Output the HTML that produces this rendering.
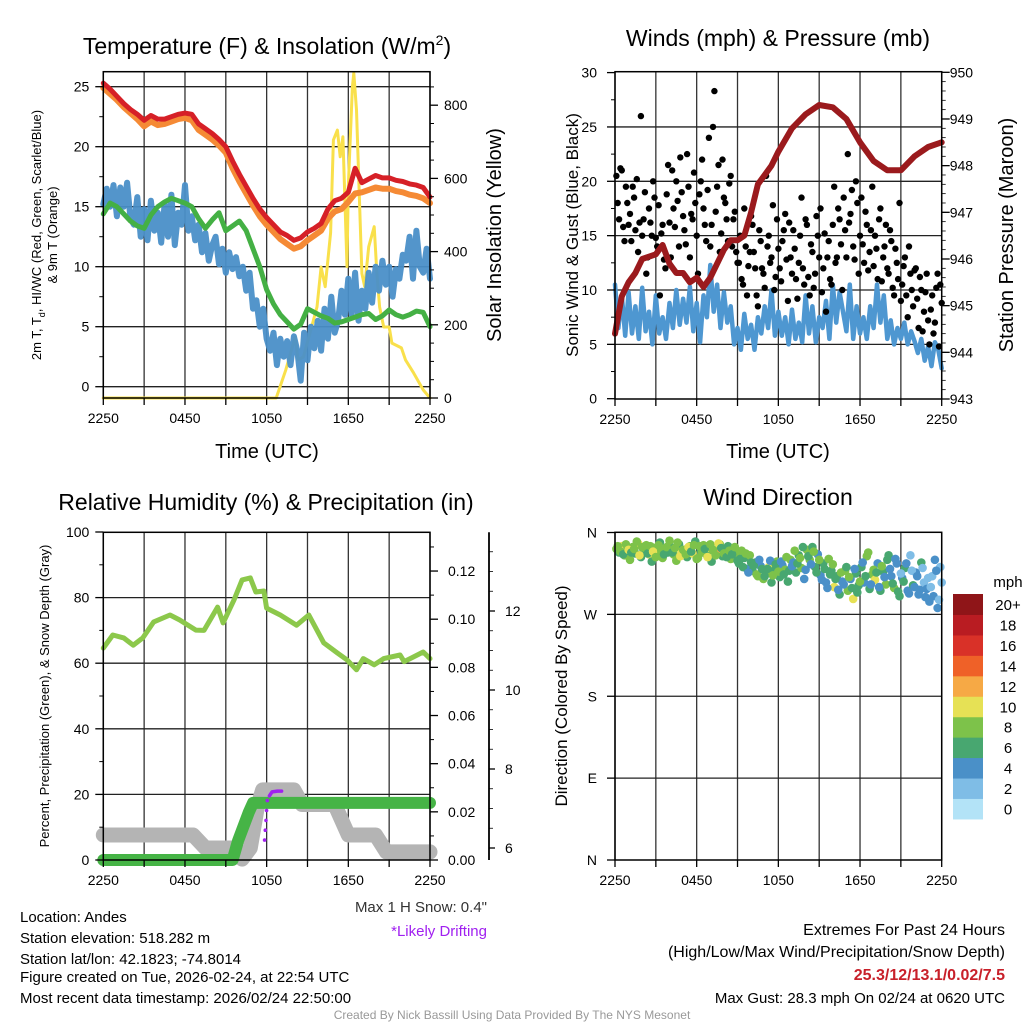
<!DOCTYPE html>
<html><head><meta charset="utf-8"><style>
html,body{margin:0;padding:0;background:#fff;}
svg{display:block;font-family:"Liberation Sans",Arial,sans-serif;}
</style></head><body>
<svg id="chart" xmlns="http://www.w3.org/2000/svg" width="1024" height="1024" viewBox="0 0 1024 1024">
<rect width="1024" height="1024" fill="#fff"/>
<g id="grids"></g>
<g id="series"></g>
<g id="axes"></g>
<g id="texts" fill="#000">
<text x="267" y="54" font-size="23" text-anchor="middle">Temperature (F) &amp; Insolation (W/m<tspan dy="-9" font-size="14">2</tspan><tspan dy="9">)</tspan></text>
<text x="778" y="46" font-size="23" text-anchor="middle">Winds (mph) &amp; Pressure (mb)</text>
<text x="266" y="510" font-size="23" text-anchor="middle">Relative Humidity (%) &amp; Precipitation (in)</text>
<text x="778" y="505" font-size="23" text-anchor="middle">Wind Direction</text>
<text x="267" y="458" font-size="20" text-anchor="middle">Time (UTC)</text>
<text x="778" y="458" font-size="20" text-anchor="middle">Time (UTC)</text>
<text transform="translate(41,235) rotate(-90)" font-size="13" text-anchor="middle">2m T, T<tspan dy="4" font-size="9">d</tspan><tspan dy="-4">, HI/WC (Red, Green, Scarlet/Blue)</tspan></text>
<text transform="translate(57,235) rotate(-90)" font-size="13" text-anchor="middle">&amp; 9m T (Orange)</text>
<text transform="translate(501,235) rotate(-90)" font-size="20" text-anchor="middle">Solar Insolation (Yellow)</text>
<text transform="translate(578,235) rotate(-90)" font-size="17" text-anchor="middle">Sonic Wind &amp; Gust (Blue, Black)</text>
<text transform="translate(1013,235) rotate(-90)" font-size="20" text-anchor="middle">Station Pressure (Maroon)</text>
<text transform="translate(49,696) rotate(-90)" font-size="13" text-anchor="middle">Percent, Precipitation (Green), &amp; Snow Depth (Gray)</text>
<text transform="translate(567,696) rotate(-90)" font-size="17" text-anchor="middle">Direction (Colored By Speed)</text>
<text x="487" y="912" font-size="15" text-anchor="end" fill="#333">Max 1 H Snow: 0.4"</text>
<text x="487" y="936" font-size="15" text-anchor="end" fill="#a020f0">*Likely Drifting</text>
<g font-size="15">
<text x="20" y="922">Location: Andes</text>
<text x="20" y="943">Station elevation: 518.282 m</text>
<text x="20" y="964">Station lat/lon: 42.1823; -74.8014</text>
<text x="20" y="982">Figure created on Tue, 2026-02-24, at 22:54 UTC</text>
<text x="20" y="1003">Most recent data timestamp: 2026/02/24 22:50:00</text>
</g>
<g font-size="16" text-anchor="end">
<text x="1005" y="935">Extremes For Past 24 Hours</text>
<text x="1005" y="957">(High/Low/Max Wind/Precipitation/Snow Depth)</text>
<text x="1005" y="980" fill="#c8202a" font-weight="bold">25.3/12/13.1/0.02/7.5</text>
<text x="1005" y="1003" font-size="15">Max Gust: 28.3 mph On 02/24 at 0620 UTC</text>
</g>
<text x="512" y="1019" font-size="12" text-anchor="middle" fill="#999">Created By Nick Bassill Using Data Provided By The NYS Mesonet</text>
</g>
</svg>
<script>
// ---------- DATA ----------
const hourTicks = ["2250","0450","1050","1650","2250"];
const tempRed = [25.3,24.8,24.2,23.6,23.1,22.7,22.2,22.6,22.3,22.3,22.5,22.7,22.8,22.7,21.9,21.5,21.1,20.6,20.0,18.8,17.7,16.7,15.7,14.8,14.1,13.5,12.9,12.6,12.2,12.4,12.9,13.2,13.6,14.8,15.5,15.7,16.2,18.2,17.0,17.3,17.6,17.4,17.4,17.2,17.1,16.9,16.8,16.6,15.8];
const tempOrange = [24.9,24.4,23.9,23.3,22.8,22.3,21.7,22.1,21.8,21.9,22.1,22.3,22.4,22.2,21.4,21.0,20.6,20.1,19.5,18.2,17.1,16.1,15.1,14.2,13.5,12.9,12.3,11.9,11.5,11.7,12.2,12.6,13.0,14.0,14.6,14.8,15.4,16.1,16.2,16.4,16.6,16.5,16.5,16.3,16.2,16.0,15.9,15.7,15.3];
const tempGreen = [14.4,15.3,15.0,14.4,13.8,13.4,13.2,14.3,15.0,15.4,15.7,15.5,15.3,15.0,14.0,13.2,13.9,14.5,13.0,13.4,13.8,13.0,11.5,10.0,8.1,6.9,6.0,5.4,4.8,5.2,6.5,6.2,5.9,5.7,5.3,5.4,5.6,5.8,6.0,6.1,5.6,5.9,6.4,6.0,5.8,6.0,6.3,6.2,5.0];
const tempBlue = [15.2,16.5,15.0,16.8,14.2,16.6,15.0,17.0,14.0,
13.5,15.8,12.5,14.8,12.2,15.5,13.0,14.5,
12.0,15.2,12.5,16.0,11.8,14.5,13.5,16.8,
13.0,14.2,12.2,13.5,11.2,12.8,10.5,11.8,
12.5,10.2,11.5,9.5,11.2,9.8,10.8,9.2,
10.0,8.0,9.5,6.5,7.2,5.0,6.5,4.0,
3.0,4.5,1.8,4.0,2.5,3.8,1.8,4.2,
3.0,0.5,4.5,2.2,5.0,3.2,5.5,3.0,
6.5,4.0,7.5,4.5,5.5,8.0,6.0,9.0,
6.0,9.5,5.5,8.0,6.5,9.5,7.0,10.0,
8.0,10.5,8.5,10.0,7.5,9.8,9.0,11.0,
10.5,12.5,9.0,13.0,10.0,9.5,11.5,9.0];
const solarHours = [0,12.7,13.4,14.1,14.3,14.7,15.3,15.7,16.0,16.3,16.7,16.9,17.2,17.4,17.6,17.9,18.0,18.3,18.4,18.6,18.7,19.0,19.2,19.5,19.9,20.1,20.3,20.6,21.0,21.2,21.9,22.2,22.8,23.5,24];
const solarValues = [0,0,76,167,104,112,194,249,358,304,451,705,732,659,714,359,577,850,888,787,669,340,304,413,468,340,249,194,194,150,137,104,68,22,0];
const windSpeed = [10.5,6.5,9.5,5.8,9.8,6.0,8.5,5.5,10.2,
6.2,8.0,5.0,9.5,6.0,7.5,5.5,8.8,
6.5,10.0,6.8,9.2,7.0,10.3,6.2,8.8,
5.2,9.5,7.5,12.3,8.0,10.5,6.5,9.8,
7.0,8.5,5.0,6.5,4.5,7.8,5.5,6.8,
4.5,7.5,6.0,8.5,6.5,10.0,5.8,8.0,
5.8,7.5,5.0,8.2,5.5,7.0,5.2,9.5,
6.0,8.5,5.2,7.5,6.5,9.0,5.5,10.5,
7.0,9.8,8.0,6.2,10.5,5.5,8.5,6.0,
7.5,5.5,8.5,6.5,10.5,7.0,9.5,5.5,
7.2,5.0,6.5,5.5,7.0,5.0,6.2,5.3,
4.2,5.5,3.5,4.8,3.0,5.2,4.5,2.8];
const windGust = [20.5,16.5,21,14.5,18, 17,19.5,15.5,13.5,26, 16.5,11.5,17.5,15,18.5, 14,9.5,16,12,21.5,
13,17.5,20,14,19, 15.5,22.5,13,16.5,18, 11.5,20,17.5,14.5,24, 16,28.3,19.5,13.5,22,
18,14.5,20.5,16.5,13.5, 12.5,11,17.5,9.5,13.5, 16,12,8.5,14.5,11.5, 20.5,15,13,10,16.5,
12,14.5,17,9,13, 15.5,11,12.5,18.5,10.5, 16,9.5,13.5,11.5,15, 17.5,12,8,14.5,10.5,
19.5,13,16.5,10,15.5, 22.5,17,14,20,11.5, 18.5,12.5,16,13.5,19.5, 15,11,17.5,13,16,
11.5,14.5,9.5,12.5,18, 10.5,13,7.5,11.5,8.5, 12,6.5,10,8,11.5, 5,9.5,7,11.5,10.5];
const windGust2 = [18,21.2,15.8,19.5,16, 14.5,18.5,20.2,16.2,15, 19,13,16.2,20,14.8, 17.8,15.2,12.8,18.8,16.2,
21,15.8,18.2,22.2,16.8, 14.2,19.5,17,20.8,15, 18.8,22,16,19.2,14, 25,17.2,21.5,15.2,18.5,
16.5,19.8,14,17.2,12.5, 15,10.5,14,12.2,16.8, 13.5,9.5,15.5,12,10.2, 14,12.5,17.8,11.2,13.8,
10.8,15.5,12.8,16.2,11.5, 13.8,9.2,15,12,16.5, 11.2,14.2,10.2,16.8,13, 9.8,15.2,13,11,16,
12.5,17.5,14.2,18.5,13, 16.2,19.2,12.8,18,15, 14.2,17.2,11.8,15.5,12.2, 13.8,16.5,10.8,14,12,
15.5,10.2,13.8,11,9, 12.2,9.5,14,10,11.8, 9.2,11.2,6.2,9.8,7.2, 8.2,6,10.2,4.8,8.8];
const pressHours = [0,0.5,1,1.5,2,3,3.5,4,4.5,5,5.5,6,6.5,7,7.5,8,8.5,9,9.5,10,10.5,11,11.5,12,13,14,15,16,17,18,19,20,21,22,23,24];
const pressValues = [944.4,945.2,945.5,945.7,946.0,946.1,946.3,945.9,945.7,945.7,945.5,945.6,945.4,945.6,945.9,946.2,946.4,946.4,946.5,947.0,947.6,947.8,948.0,948.3,948.8,949.1,949.3,949.25,949.0,948.5,948.1,947.9,947.9,948.2,948.4,948.5];
const rhHours = [0,0.7,1.5,2.2,2.9,3.7,4.9,5.6,6.8,7.4,8.4,8.8,9.6,10.2,10.8,11.2,11.8,12.0,13.0,14.2,15.1,16.2,17.2,17.9,18.6,19.1,19.9,20.6,21.8,22.1,22.6,23.5,24];
const rhValues = [64.6,68.6,67.7,65.5,67.7,72.6,74.7,73.2,70.1,70.0,77.1,72.3,79.3,85.4,86.0,81.7,82.0,76.8,74.7,71.6,74.7,66.2,63.1,61.0,58.0,61.4,59.5,61.4,62.5,60.5,61.5,63.4,61.4];
const precipHours = [0,9.5,9.9,10.3,10.7,11.0,24];
const precipValues = [0,0,0.008,0.014,0.02,0.0237,0.0237];
const snowHours = [0,6.6,7.5,9.7,10.2,10.8,11.3,11.7,14.0,14.6,17.0,18.0,20.0,20.8,24];
const snowValues = [6.33,6.33,6.0,6.0,5.72,6.0,7.0,7.47,7.47,7.1,7.1,6.33,6.33,5.9,5.9];
const driftHours = [12.2,12.4,12.8,13.1];
const driftValues = [7.32,7.42,7.44,7.44];
const driftDotHours = [11.85,11.9,11.95,12.0,12.05];
const driftDotValues = [6.2,6.45,6.7,6.95,7.2];
const dirValues = [342,338,345,335,340, 330,344,337,348,333, 340,346,336,328,343, 335,349,332,341,338,
344,336,329,347,339, 341,333,345,337,350, 332,340,346,336,343, 328,341,337,347,334,
339,345,331,342,336, 326,340,332,320,335, 318,327,312,323,309, 315,322,305,318,328,
311,324,319,306,330, 327,316,335,321,309, 341,330,344,322,336, 313,326,305,331,318,
300,312,292,306,318, 296,309,287,315,302, 322,305,334,298,314, 308,326,296,317,303,
335,312,299,326,290, 310,321,296,335,302, 316,292,327,305,298, 284,312,330,277,322];
const dirSpeeds = [9,7,10,8,7, 8,9,6,10,7, 7,8,10,6,9, 8,7,9,10,6,
7,9,8,6,10, 9,7,8,10,7, 8,6,9,7,10, 7,9,12,8,6,
9,7,8,6,8, 6,8,7,5,9, 7,6,8,5,9, 8,10,7,6,9,
6,5,8,7,9, 4,7,6,8,5, 8,9,6,7,5, 5,7,4,8,6,
10,6,7,4,9, 8,5,10,7,6, 7,4,8,6,9, 10,5,7,6,8,
7,4,9,5,6, 4,7,5,3,6, 5,4,6,3,4, 4,3,5,4,3];
const dirValues2 = [345,339,336,347,341, 338,342,350,335,344, 343,337,345,339,333, 346,340,336,344,351,
338,343,349,334,341, 336,344,339,346,331, 345,338,342,333,347, 340,335,348,343,337,
333,340,336,344,329, 331,322,337,316,327, 324,314,330,320,312, 320,329,313,325,317,
328,314,333,318,323, 340,326,332,344,319, 334,325,339,316,330, 308,320,299,314,325,
309,297,316,303,322, 311,299,320,294,306, 327,312,338,303,319, 316,300,323,311,330,
320,304,331,295,315, 306,326,293,318,300, 312,297,321,289,310, 300,290,318,286,305];
const dirSpeeds2 = [8,9,7,8,10, 7,8,9,11,8, 9,7,8,10,8, 8,9,7,9,8, 7,8,9,10,8, 8,10,7,9,8, 9,8,7,10,8, 8,9,10,7,8, 7,8,6,9,7,
7,6,8,5,7, 6,8,5,7,6, 7,5,8,6,9, 5,7,8,6,4, 8,6,9,7,5, 7,5,9,6,8, 5,6,4,7,8,
6,5,8,4,7, 9,6,5,7,8, 4,6,8,5,9, 7,5,8,4,6, 5,7,4,6,3, 6,4,5,3,5, 4,5,3,4,2, 3,4,5,3,2];
const cbLabels = ["0","2","4","6","8","10","12","14","16","18","20+"];
const cbColors = ["#b3e3f7","#7fbde6","#4a90c8","#48a770","#7dc24a","#e6e155","#f6a945","#ef6128","#d93128","#b91c22","#8f1518"];

// ---------- SCALES ----------
const NS="http://www.w3.org/2000/svg";
const L1=103.3, R1=430, L2=615, R2=941.7;
const xA=t=>L1+t*(R1-L1)/24;
const xB=t=>L2+t*(R2-L2)/24;
const yT=v=>386.7-12*v;
const yS=v=>398-0.366*v;
const yW=v=>398.7-10.87*v;
const yP=p=>399-(p-943)*46.67;
const yR=v=>860-3.28*v;
const yPr=v=>860-2408*v;
const ySn=v=>848-39.5*(v-6);
const yD=d=>860-d*0.9097;
const G=document.getElementById('grids'),S=document.getElementById('series'),A=document.getElementById('axes');
function mk(tag,parent,attrs){const e=document.createElementNS(NS,tag);for(const k in attrs)e.setAttribute(k,attrs[k]);parent.appendChild(e);return e;}
function line(p,x1,y1,x2,y2,w,c){return mk('line',p,{x1,y1,x2,y2,stroke:c||'#000','stroke-width':w||1});}
function txt(p,x,y,s,anchor,size){const t=mk('text',p,{x,y,'font-size':size||14,'text-anchor':anchor||'middle'});t.textContent=s;return t;}
function poly(xs,ys,xf,yf,color,w,op){const pts=xs.map((t,i)=>xf(t).toFixed(1)+','+yf(ys[i]).toFixed(1)).join(' ');return mk('polyline',S,{points:pts,fill:'none',stroke:color,'stroke-width':w,'stroke-linejoin':'round','stroke-linecap':'round',opacity:op||1});}
const halfHours=tempRed.map((_,i)=>i*0.5);
const qHours=tempBlue.map((_,i)=>i*0.25);

// ---------- GRIDS & AXES ----------
function frame(L,R,T,B,name,hGridYs){
  for(let i=0;i<=8;i++){const x=L+i*(R-L)/8;const gl=line(G,x,T,x,B,1.3,'#333');line(A,x,B,x,B+7,1.3);}
  hGridYs.forEach(y=>{const hl=line(G,L,y,R,y,1.3,'#222');});
  const r=mk('rect',A,{x:L,y:T,width:R-L,height:B-T,fill:'none',stroke:'#000','stroke-width':1.5});
  
  
  hourTicks.forEach((s,i)=>{const t=txt(A,L+i*(R-L)/4,B+25,s,'middle',14);});
}
frame(L1,R1,71.7,398,'temp',[0,5,10,15,20,25].map(yT));
[0,5,10,15,20,25].forEach(v=>{line(A,L1-8,yT(v),L1,yT(v),1.3);const t=txt(A,L1-14,yT(v)+5,String(v),'end');});
for(let v=2.5;v<26;v+=5)line(A,L1-4,yT(v),L1,yT(v),1);
[0,200,400,600,800].forEach(v=>{line(A,R1,yS(v),R1+8,yS(v),1.3);const t=txt(A,R1+14,yS(v)+5,String(v),'start');});
for(let v=50;v<880;v+=50)if(v%200)line(A,R1,yS(v),R1+4,yS(v),1);
frame(L2,R2,71.7,399,'winds',[5,10,15,20,25].map(yW));
[0,5,10,15,20,25,30].forEach(v=>{line(A,L2-8,yW(v),L2,yW(v),1.3);const t=txt(A,L2-18,yW(v)+5,String(v),'end');});
for(let v=2.5;v<30;v+=5)line(A,L2-4,yW(v),L2,yW(v),1);
for(let p=943;p<=950;p++){line(A,R2,yP(p),R2+8,yP(p),1.3);const t=txt(A,R2+8,yP(p)+5,String(p),'start');}
for(let p=943.2;p<950;p+=0.2)line(A,R2,yP(p),R2+4,yP(p),0.8);
frame(L1,R1,532.3,860,'humidity',[20,40,60,80].map(yR));
[0,20,40,60,80,100].forEach(v=>{line(A,L1-8,yR(v),L1,yR(v),1.3);const t=txt(A,L1-14,yR(v)+5,String(v),'end');});
for(let v=10;v<100;v+=20)line(A,L1-4,yR(v),L1,yR(v),1);
[0,0.02,0.04,0.06,0.08,0.10,0.12].forEach(v=>{line(A,R1,yPr(v),R1+8,yPr(v),1.3);const t=txt(A,R1+18,yPr(v)+5,v.toFixed(2),'start');});
for(let v=0.01;v<0.135;v+=0.02)line(A,R1,yPr(v),R1+4,yPr(v),1);
line(A,489,532.3,489,860,1.8);
[6,8,10,12].forEach(v=>{line(A,489,ySn(v),495,ySn(v),1.3);const t=txt(A,505,ySn(v)+5,String(v),'start');});
for(let v=6.5;v<13.6;v+=0.5)if(v%2)line(A,489,ySn(v),493,ySn(v),0.8);
frame(L2,R2,532.3,860,'direction',[90,180,270].map(yD));
[['N',0],['E',90],['S',180],['W',270],['N',360]].forEach(([s,d])=>{line(A,L2-8,yD(d),L2,yD(d),1.3);const t=txt(A,L2-18,yD(d)+5,s,'end');});

// ---------- SERIES ----------
let el;
el=poly(solarHours,solarValues,xA,yS,'#f9e04b',3);


el=poly(qHours,tempBlue,xA,yT,'#4a8fc8',6,0.95);


el=poly(halfHours,tempGreen,xA,yT,'#44b044',5);


el=poly(halfHours,tempOrange,xA,yT,'#f58a35',6);


el=poly(halfHours,tempRed,xA,yT,'#d62027',5);


el=poly(qHours,windSpeed,xB,yW,'#4e97d1',4.5);


windGust.forEach((v,i)=>{const c=mk('circle',S,{cx:xB(i*24/windGust.length+0.1).toFixed(1),cy:yW(v).toFixed(1),r:3.2,fill:'#000'});

});
windGust2.forEach((v,i)=>{const c=mk('circle',S,{cx:xB(i*24/windGust2.length+0.2).toFixed(1),cy:yW(v).toFixed(1),r:3.2,fill:'#000'});

});
el=poly(pressHours,pressValues,xB,yP,'#9b1a1d',6);


el=poly(snowHours,snowValues,xA,ySn,'#b4b4b4',15);


el=poly(precipHours,precipValues,xA,yPr,'#46b446',12);


el=poly(rhHours,rhValues,xA,yR,'#8cc84b',5);


el=poly(driftHours,driftValues,xA,ySn,'#a020f0',3.5);


driftDotHours.forEach((t,i)=>{const c=mk('circle',S,{cx:xA(t).toFixed(1),cy:ySn(driftDotValues[i]).toFixed(1),r:1.8,fill:'#a020f0'});

});
function spdColor(s){return cbColors[Math.min(10,Math.max(0,Math.floor(s/2)))];}
dirValues.forEach((d,i)=>{const c=mk('circle',S,{cx:xB(i*24/dirValues.length+0.1).toFixed(1),cy:yD(d).toFixed(1),r:4.3,fill:spdColor(dirSpeeds[i])});

});
dirValues2.forEach((d,i)=>{const c=mk('circle',S,{cx:xB(i*24/dirValues2.length+0.2).toFixed(1),cy:yD(d).toFixed(1),r:4.3,fill:spdColor(dirSpeeds2[i])});

});
const cbTop=594,cbH=20.45;
cbColors.forEach((c,i)=>{const r=mk('rect',A,{x:953,y:(cbTop+(10-i)*cbH).toFixed(1),width:30,height:cbH+0.5,fill:c});


const t=txt(A,1008,cbTop+(10-i)*cbH+16,cbLabels[i],'middle',15);

});
el=txt(A,1008,587,'mph','middle',15);


</script>
</body></html>
